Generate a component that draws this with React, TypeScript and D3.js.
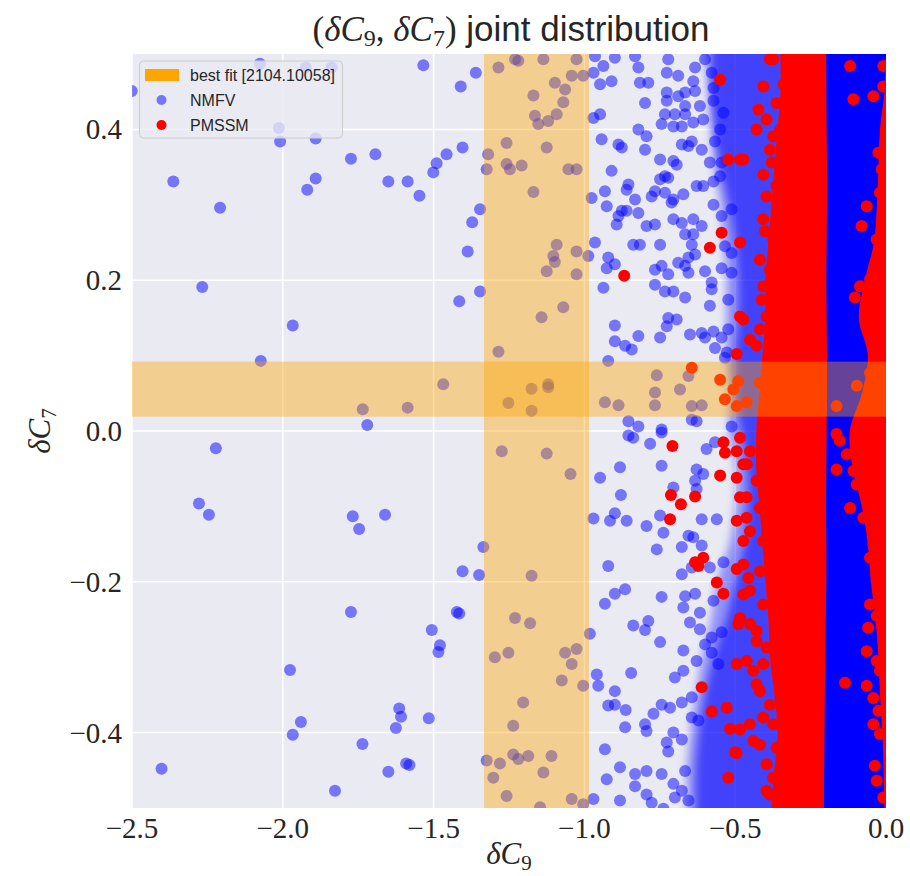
import React from "react";
import * as d3 from "d3";

// ---------- data ----------
const xTicks = [-2.5, -2.0, -1.5, -1.0, -0.5, 0.0];
const yTicks = [-0.4, -0.2, 0.0, 0.2, 0.4];
const bestFitC9 = [-1.333, -0.985];
const bestFitC7 = [0.019, 0.092];

// NMFV isolated points (far left region)
const nmfvFar: [number, number][] = [
  [-2.501, 0.451], [-2.076, 0.487], [-1.924, 0.482], [-1.838, 0.482], [-1.534, 0.485], [-1.41, 0.457], [-1.36, 0.475],
  [-2.013, 0.402], [-2.009, 0.384], [-1.891, 0.388], [-2.363, 0.331], [-2.208, 0.296], [-1.919, 0.32], [-1.891, 0.335],
  [-1.774, 0.361], [-1.693, 0.367], [-1.65, 0.331], [-1.586, 0.331], [-1.547, 0.312], [-1.501, 0.343], [-1.49, 0.355],
  [-1.457, 0.367], [-1.404, 0.376], [-1.346, 0.294], [-1.372, 0.277], [-1.387, 0.238], [-2.267, 0.191], [-1.967, 0.14],
  [-1.415, 0.172], [-1.346, 0.185], [-2.073, 0.093], [-1.468, 0.062], [-1.735, 0.029], [-1.586, 0.031], [-1.72, 0.008],
  [-2.222, -0.023], [-2.278, -0.096], [-2.245, -0.111], [-1.768, -0.113], [-1.661, -0.111], [-1.747, -0.13], [-1.335, -0.154],
  [-1.404, -0.186], [-1.349, -0.191], [-1.774, -0.24], [-1.423, -0.24], [-1.415, -0.242], [-1.506, -0.264], [-1.479, -0.284],
  [-1.484, -0.293], [-1.976, -0.317], [-1.94, -0.386], [-1.967, -0.403], [-1.614, -0.368], [-1.608, -0.379], [-1.625, -0.394],
  [-1.516, -0.381], [-1.736, -0.415], [-1.591, -0.441], [-1.58, -0.443], [-1.65, -0.452], [-2.402, -0.448], [-1.827, -0.477],
];

// NMFV points inside the vertical best-fit band
const nmfvBand: [number, number][] = [
  [-1.285, 0.482], [-1.23, 0.493], [-1.219, 0.491], [-1.136, 0.493], [-1.026, 0.493], [-1.098, 0.462], [-1.064, 0.453],
  [-1.042, 0.471], [-1.004, 0.471], [-1.169, 0.445], [-1.07, 0.436], [-1.164, 0.418], [-1.153, 0.407], [-1.12, 0.411],
  [-1.092, 0.42], [-1.258, 0.382], [-1.125, 0.376], [-1.319, 0.367], [-1.324, 0.347], [-1.258, 0.354], [-1.247, 0.347],
  [-1.208, 0.352], [-1.053, 0.347], [-1.026, 0.347], [-1.169, 0.317], [-1.092, 0.247], [-1.103, 0.232], [-1.098, 0.224],
  [-1.125, 0.212], [-1.026, 0.238], [-0.987, 0.232], [-1.026, 0.208], [-1.07, 0.164], [-1.142, 0.151], [-1.285, 0.105],
  [-1.175, 0.056], [-1.12, 0.062], [-1.12, 0.058], [-1.252, 0.037], [-1.175, 0.027],
  [-1.274, -0.027], [-1.125, -0.03], [-1.046, -0.057], [-1.175, -0.192], [-1.23, -0.248], [-1.18, -0.255], [-1.297, -0.3],
  [-1.252, -0.294], [-1.064, -0.294], [-1.026, -0.289], [-1.042, -0.309], [-1.075, -0.331], [-1.004, -0.338], [-1.203, -0.36],
  [-1.236, -0.391], [-1.324, -0.437], [-1.28, -0.441], [-1.236, -0.429], [-1.219, -0.435], [-1.186, -0.431], [-1.109, -0.431],
  [-1.302, -0.46], [-1.136, -0.453], [-1.258, -0.484], [-1.042, -0.488], [-1.004, -0.495], [-1.147, -0.499],
];

// NMFV points, middle region, upper half
const nmfvMidUpper: [number, number][] = [
  [-0.965, 0.497], [-0.899, 0.495], [-0.97, 0.475], [-0.937, 0.484], [-0.91, 0.464], [-0.948, 0.46], [-0.832, 0.497],
  [-0.821, 0.482], [-0.816, 0.462], [-0.788, 0.462], [-0.727, 0.475], [-0.689, 0.471], [-0.722, 0.493], [-0.633, 0.482],
  [-0.639, 0.464], [-0.6, 0.493], [-0.578, 0.475], [-0.727, 0.449], [-0.727, 0.438], [-0.689, 0.444], [-0.666, 0.449],
  [-0.666, 0.431], [-0.799, 0.435], [-0.633, 0.451], [-0.617, 0.431], [-0.572, 0.438], [-0.572, 0.455], [-0.948, 0.42],
  [-0.97, 0.415], [-0.733, 0.42], [-0.7, 0.42], [-0.666, 0.42], [-0.639, 0.409], [-0.606, 0.413], [-0.539, 0.422],
  [-0.943, 0.387], [-0.887, 0.38], [-0.876, 0.376], [-0.821, 0.4], [-0.794, 0.391], [-0.799, 0.373], [-0.744, 0.407],
  [-0.705, 0.404], [-0.677, 0.404], [-0.677, 0.38], [-0.655, 0.378], [-0.644, 0.384], [-0.611, 0.373], [-0.567, 0.384],
  [-0.55, 0.4], [-0.749, 0.36], [-0.705, 0.358], [-0.694, 0.353], [-0.91, 0.345], [-0.733, 0.338], [-0.749, 0.334],
  [-0.722, 0.336], [-0.932, 0.318], [-0.854, 0.327], [-0.86, 0.32], [-0.832, 0.307], [-0.777, 0.311], [-0.766, 0.318],
  [-0.733, 0.316], [-0.705, 0.307], [-0.672, 0.314], [-0.628, 0.325], [-0.606, 0.325], [-0.572, 0.331], [-0.55, 0.338],
  [-0.584, 0.356], [-0.545, 0.356], [-0.976, 0.309], [-0.926, 0.298], [-0.887, 0.285], [-0.876, 0.292], [-0.86, 0.292],
  [-0.821, 0.289], [-0.893, 0.274], [-0.794, 0.272], [-0.766, 0.274], [-0.711, 0.303], [-0.705, 0.281], [-0.677, 0.276],
  [-0.639, 0.281], [-0.611, 0.272], [-0.572, 0.3], [-0.545, 0.285], [-0.512, 0.294], [-0.965, 0.25], [-0.838, 0.247],
  [-0.816, 0.247], [-0.749, 0.247], [-0.666, 0.261], [-0.639, 0.261], [-0.644, 0.247], [-0.534, 0.245], [-0.512, 0.236],
  [-0.633, 0.234], [-0.655, 0.23], [-0.921, 0.23], [-0.926, 0.216], [-0.899, 0.221], [-0.766, 0.214], [-0.744, 0.219],
  [-0.689, 0.223], [-0.666, 0.219], [-0.655, 0.21], [-0.722, 0.208], [-0.6, 0.212], [-0.578, 0.197], [-0.545, 0.216],
  [-0.512, 0.21], [-0.937, 0.19], [-0.766, 0.194], [-0.733, 0.185], [-0.705, 0.185], [-0.666, 0.177], [-0.578, 0.188],
  [-0.523, 0.174], [-0.584, 0.166], [-0.722, 0.15], [-0.694, 0.148], [-0.727, 0.139], [-0.899, 0.14], [-0.899, 0.119],
  [-0.865, 0.113], [-0.821, 0.126], [-0.843, 0.108], [-0.749, 0.124], [-0.65, 0.128], [-0.611, 0.13], [-0.6, 0.124],
  [-0.572, 0.132], [-0.545, 0.124], [-0.523, 0.135], [-0.567, 0.11], [-0.528, 0.104], [-0.534, 0.097], [-0.921, 0.093],
  [-0.76, 0.074], [-0.655, 0.073], [-0.932, 0.038], [-0.887, 0.034], [-0.766, 0.051], [-0.766, 0.034], [-0.683, 0.055],
  [-0.644, 0.033], [-0.611, 0.034], [-0.854, 0.013], [-0.821, 0.006], [-0.744, 0.002], [-0.644, 0.015], [-0.628, 0.013],
  [-0.512, 0.006],
];

// NMFV points, middle region, lower half
const nmfvMidLower: [number, number][] = [
  [-0.854, -0.006], [-0.838, -0.009], [-0.744, -0.002], [-0.782, -0.017], [-0.595, -0.024], [-0.567, -0.015], [-0.948, -0.062],
  [-0.882, -0.048], [-0.744, -0.046], [-0.628, -0.051], [-0.606, -0.057], [-0.633, -0.066], [-0.879, -0.085], [-0.705, -0.075],
  [-0.628, -0.077], [-0.97, -0.116], [-0.915, -0.119], [-0.899, -0.109], [-0.86, -0.119], [-0.794, -0.126], [-0.749, -0.112],
  [-0.738, -0.135], [-0.611, -0.117], [-0.561, -0.117], [-0.76, -0.157], [-0.677, -0.154], [-0.655, -0.139], [-0.639, -0.141],
  [-0.611, -0.152], [-0.921, -0.179], [-0.677, -0.19], [-0.644, -0.181], [-0.584, -0.181], [-0.539, -0.174], [-0.899, -0.216],
  [-0.865, -0.21], [-0.932, -0.229], [-0.744, -0.22], [-0.666, -0.219], [-0.633, -0.216], [-0.672, -0.234], [-0.617, -0.241],
  [-0.572, -0.225], [-0.838, -0.258], [-0.799, -0.264], [-0.788, -0.252], [-0.65, -0.254], [-0.617, -0.263], [-0.578, -0.274],
  [-0.545, -0.267], [-0.749, -0.28], [-0.672, -0.291], [-0.628, -0.305], [-0.6, -0.283], [-0.578, -0.294], [-0.556, -0.309],
  [-0.982, -0.269], [-0.959, -0.323], [-0.954, -0.338], [-0.845, -0.321], [-0.899, -0.345], [-0.921, -0.364], [-0.899, -0.363],
  [-0.863, -0.37], [-0.7, -0.327], [-0.672, -0.318], [-0.677, -0.36], [-0.644, -0.353], [-0.771, -0.375], [-0.744, -0.363],
  [-0.716, -0.367], [-0.799, -0.389], [-0.794, -0.398], [-0.865, -0.393], [-0.705, -0.4], [-0.727, -0.413], [-0.677, -0.409],
  [-0.722, -0.425], [-0.932, -0.422], [-0.622, -0.384], [-0.644, -0.38], [-0.882, -0.446], [-0.832, -0.455], [-0.794, -0.451],
  [-0.744, -0.455], [-0.926, -0.462], [-0.832, -0.471], [-0.794, -0.482], [-0.97, -0.488], [-0.882, -0.49], [-0.777, -0.493],
  [-0.705, -0.468], [-0.666, -0.451], [-0.7, -0.486], [-0.655, -0.49], [-0.677, -0.477], [-0.738, -0.501],
];

// PMSSM isolated points
const pmssmScatter: [number, number][] = [
  [-0.55, 0.466], [-0.523, 0.36], [-0.484, 0.36], [-0.584, 0.243], [-0.545, 0.263], [-0.484, 0.25], [-0.868, 0.206],
  [-0.484, 0.152], [-0.495, 0.102], [-0.644, 0.084], [-0.55, 0.068], [-0.49, 0.066], [-0.534, 0.042], [-0.495, 0.033],
  [-0.506, 0.055], [-0.462, 0.038], [-0.418, 0.064],
  [-0.407, 0.457], [-0.34, 0.46], [-0.423, 0.426], [-0.429, 0.4], [-0.374, 0.391], [-0.473, 0.36], [-0.407, 0.34],
  [-0.379, 0.356], [-0.401, 0.265], [-0.473, 0.148], [-0.451, 0.121], [-0.396, 0.152], [-0.412, 0.174],
  [-0.385, 0.493], [-0.307, 0.488],
  [-0.708, -0.02], [-0.539, -0.015], [-0.534, -0.029], [-0.55, -0.059], [-0.713, -0.085], [-0.68, -0.097], [-0.633, -0.087],
  [-0.716, -0.117], [-0.633, -0.174], [-0.606, -0.168], [-0.622, -0.179], [-0.561, -0.201], [-0.539, -0.216],
  [-0.611, -0.34], [-0.578, -0.372], [-0.528, -0.367], [-0.517, -0.395], [-0.501, -0.426], [-0.523, -0.46],
  [-0.484, -0.009], [-0.451, -0.027], [-0.473, -0.044], [-0.495, -0.062], [-0.462, -0.088], [-0.495, -0.119], [-0.462, -0.115],
  [-0.473, -0.146], [-0.495, -0.183], [-0.456, -0.195], [-0.473, -0.217], [-0.49, -0.256], [-0.451, -0.256], [-0.429, -0.279],
  [-0.495, -0.309], [-0.44, -0.318], [-0.418, -0.345], [-0.407, -0.38], [-0.484, -0.396], [-0.44, -0.411], [-0.495, -0.427],
  [-0.374, -0.46], [-0.385, -0.482], [-0.396, -0.442],
];

// PMSSM blobs along the left edge of the PMSSM core
const pmssmEdgeFringe: [number, number][] = [
  [-0.374, 0.493], [-0.296, 0.484], [-0.329, 0.475], [-0.363, 0.435], [-0.396, 0.413], [-0.351, 0.4], [-0.34, 0.378],
  [-0.385, 0.373], [-0.363, 0.325], [-0.396, 0.311], [-0.351, 0.294], [-0.407, 0.281], [-0.374, 0.254], [-0.418, 0.227],
  [-0.385, 0.214], [-0.351, 0.192], [-0.407, 0.192], [-0.374, 0.166], [-0.418, 0.135], [-0.385, 0.117], [-0.429, 0.113],
  [-0.495, -0.027], [-0.462, -0.044], [-0.429, -0.066], [-0.484, -0.088], [-0.418, -0.102], [-0.451, -0.133], [-0.407, -0.146],
  [-0.473, -0.177], [-0.418, -0.186], [-0.451, -0.212], [-0.407, -0.23], [-0.484, -0.248], [-0.429, -0.265], [-0.396, -0.287],
  [-0.462, -0.305], [-0.407, -0.309], [-0.429, -0.336], [-0.385, -0.363], [-0.451, -0.389], [-0.374, -0.389], [-0.418, -0.416],
  [-0.363, -0.42], [-0.351, -0.451], [-0.396, -0.477], [-0.329, -0.486],
];

// PMSSM points inside the NMFV core (right edge)
const pmssmRight: [number, number][] = [
  [-0.119, 0.484], [-0.108, 0.44], [-0.042, 0.444], [-0.009, 0.457], [-0.009, 0.484], [-0.064, 0.298], [-0.081, 0.272],
  [-0.103, 0.177], [-0.086, 0.192], [-0.053, 0.201], [-0.031, 0.228], [-0.025, 0.369], [-0.014, 0.347], [-0.02, 0.316],
  [-0.031, 0.254], [-0.042, 0.166], [-0.031, 0.139], [-0.02, 0.113], [-0.164, 0.033], [-0.097, 0.06], [-0.053, 0.077],
  [-0.164, -0.004], [-0.13, -0.031], [-0.164, -0.051], [-0.108, -0.053], [-0.119, -0.102], [-0.075, -0.115], [-0.031, -0.088],
  [-0.042, -0.15], [-0.053, -0.168], [-0.053, -0.23], [-0.031, -0.245], [-0.059, -0.261], [-0.064, -0.292], [-0.031, -0.305],
  [-0.136, -0.334], [-0.064, -0.338], [-0.02, -0.318], [-0.042, -0.354], [-0.025, -0.371], [-0.042, -0.389], [-0.02, -0.402],
  [-0.037, -0.444], [-0.031, -0.464], [-0.009, -0.486], [-0.153, -0.013], [-0.097, -0.071], [-0.031, -0.199], [-0.014, -0.044],
];

// density envelopes of the saturated parts (per y level)
const profileY = [0.5, 0.45, 0.4, 0.35, 0.3, 0.25, 0.2, 0.15, 0.1, 0.05, 0.0, -0.05, -0.1, -0.15, -0.2, -0.25, -0.3, -0.35, -0.4, -0.45, -0.5];
const nmfvDenseLeft = [-0.6, -0.59, -0.58, -0.57, -0.55, -0.54, -0.53, -0.53, -0.53, -0.52, -0.52, -0.5, -0.5, -0.52, -0.56, -0.58, -0.61, -0.63, -0.65, -0.66, -0.66];
const nmfvInnerLeft = [-0.58, -0.58, -0.57, -0.55, -0.52, -0.5, -0.49, -0.49, -0.5, -0.5, -0.48, -0.46, -0.46, -0.47, -0.5, -0.53, -0.57, -0.6, -0.62, -0.63, -0.63];
const nmfvCoreLeft = [-0.2, -0.2, -0.199, -0.198, -0.198, -0.199, -0.2, -0.199, -0.198, -0.198, -0.199, -0.2, -0.201, -0.2, -0.2, -0.202, -0.204, -0.205, -0.206, -0.207, -0.208];
const pmssmCoreLeft = [-0.35, -0.35, -0.36, -0.37, -0.38, -0.39, -0.4, -0.4, -0.41, -0.42, -0.43, -0.43, -0.42, -0.41, -0.4, -0.39, -0.385, -0.37, -0.36, -0.37, -0.38];
const pmssmEdgeLeft = [0, -0.005, -0.02, -0.025, -0.03, -0.04, -0.07, -0.09, -0.06, -0.08, -0.12, -0.11, -0.08, -0.06, -0.05, -0.035, -0.025, -0.02, -0.012, -0.008, -0.005];

// ---------- layout ----------
const W = 910, H = 876;
const L = 132, R = 886, T = 54, B = 808;
const xS = d3.scaleLinear().domain([-2.5, 0]).range([L, R]);
const yS = d3.scaleLinear().domain([-0.5, 0.5]).range([B, T]);
const BLUE = "#0000ff";
const RED = "#ff0000";
const ORANGE = "#ffa500";
const SERIF = "'Liberation Serif', 'DejaVu Serif', serif";
const SANS = "'Liberation Sans', Arial, sans-serif";
const fmt = (v: number) => (v < 0 ? "\u2212" : "") + Math.abs(v).toFixed(1);

type Prof = { y: number; x0: number; x1: number };
const mkProf = (lefts: number[], rights: number[] | number): Prof[] =>
  profileY.map((y, i) => ({ y, x0: lefts[i], x1: Array.isArray(rights) ? rights[i] : rights }));

const area = d3
  .area<Prof>()
  .y((d) => yS(d.y))
  .x0((d) => xS(d.x0))
  .x1((d) => xS(d.x1))
  .curve(d3.curveCatmullRom);

export default function App() {
  const denseBlue = mkProf(nmfvDenseLeft, pmssmCoreLeft.map((v) => v + 0.03));
  const innerBlue = mkProf(nmfvInnerLeft, pmssmCoreLeft.map((v) => v + 0.03));
  const blueCore = mkProf(nmfvCoreLeft, 0.01);
  const redCore = mkProf(pmssmCoreLeft, nmfvCoreLeft.map((v) => v + 0.002));
  const redEdge = mkProf(pmssmEdgeLeft, 0.01);
  const nmfvAll = [...nmfvFar, ...nmfvBand, ...nmfvMidUpper, ...nmfvMidLower];
  const pmssmAll = [...pmssmScatter, ...pmssmEdgeFringe, ...pmssmRight];

  return (
    <svg width={W} height={H} style={{ position: "absolute", left: 0, top: 0, background: "#fff" }}>
      <defs>
        <clipPath id="plotclip">
          <rect x={L} y={T} width={R - L} height={B - T} />
        </clipPath>
        <filter id="soft" filterUnits="userSpaceOnUse" x={L - 20} y={T - 20} width={R - L + 40} height={B - T + 40}>
          <feGaussianBlur stdDeviation="4 0" />
        </filter>
      </defs>
      <rect x={L} y={T} width={R - L} height={B - T} fill="#EAEAF2" />
      {xTicks.map((t) => (
        <line key={"gx" + t} x1={xS(t)} x2={xS(t)} y1={T} y2={B} stroke="#fff" strokeWidth={1.5} />
      ))}
      {yTicks.map((t) => (
        <line key={"gy" + t} x1={L} x2={R} y1={yS(t)} y2={yS(t)} stroke="#fff" strokeWidth={1.5} />
      ))}
      <g clipPath="url(#plotclip)">
        {/* NMFV */}
        <g filter="url(#soft)">
          <path d={area(denseBlue) || ""} fill={BLUE} fillOpacity={0.38} />
          <path d={area(innerBlue) || ""} fill={BLUE} fillOpacity={0.55} />
        </g>
        <path d={area(blueCore) || ""} fill={BLUE} />
        {nmfvAll.map((p, i) => (
          <circle key={"n" + i} cx={xS(p[0])} cy={yS(p[1])} r={6} fill={BLUE} fillOpacity={0.5} />
        ))}
        {/* PMSSM */}
        <path d={area(redCore) || ""} fill={RED} />
        <path d={area(redEdge) || ""} fill={RED} />
        {pmssmAll.map((p, i) => (
          <circle key={"p" + i} cx={xS(p[0])} cy={yS(p[1])} r={6} fill={RED} />
        ))}
        {/* best fit bands */}
        <rect x={xS(bestFitC9[0])} y={T} width={xS(bestFitC9[1]) - xS(bestFitC9[0])} height={B - T} fill={ORANGE} fillOpacity={0.4} />
        <rect x={L} y={yS(bestFitC7[1])} width={R - L} height={yS(bestFitC7[0]) - yS(bestFitC7[1])} fill={ORANGE} fillOpacity={0.4} />
      </g>

      {/* ticks */}
      {xTicks.map((t) => (
        <text key={"tx" + t} x={xS(t)} y={838} textAnchor="middle" fontFamily={SERIF} fontSize={29} fill="#262626">
          {fmt(t)}
        </text>
      ))}
      {yTicks.map((t) => (
        <text key={"ty" + t} x={122} y={yS(t) + 10} textAnchor="end" fontFamily={SERIF} fontSize={29} fill="#262626">
          {fmt(t)}
        </text>
      ))}

      {/* axis labels */}
      <text x={(L + R) / 2} y={864} textAnchor="middle" fontFamily={SERIF} fontSize={31} fill="#262626">
        <tspan fontStyle="italic">δC</tspan>
        <tspan fontSize={21} dy={6}>9</tspan>
      </text>
      <text transform={`translate(50, ${(T + B) / 2}) rotate(-90)`} textAnchor="middle" fontFamily={SERIF} fontSize={31} fill="#262626">
        <tspan fontStyle="italic">δC</tspan>
        <tspan fontSize={21} dy={6}>7</tspan>
      </text>

      {/* title */}
      <text x={(L + R) / 2 + 2} y={41} textAnchor="middle" fill="#262626">
        <tspan fontFamily={SERIF} fontSize={35}>(</tspan>
        <tspan fontFamily={SERIF} fontSize={35} fontStyle="italic">δC</tspan>
        <tspan fontFamily={SERIF} fontSize={24} dy={5}>9</tspan>
        <tspan fontFamily={SERIF} fontSize={35} dy={-5}>, </tspan>
        <tspan fontFamily={SERIF} fontSize={35} fontStyle="italic">δC</tspan>
        <tspan fontFamily={SERIF} fontSize={24} dy={5}>7</tspan>
        <tspan fontFamily={SERIF} fontSize={35} dy={-5}>)</tspan>
        <tspan fontFamily={SANS} fontSize={35}> joint distribution</tspan>
      </text>

      {/* legend */}
      <g>
        <rect x={139.5} y={61} width={203} height={77} rx={4} fill="#EAEAF2" fillOpacity={0.8} stroke="#cccccc" strokeWidth={1} />
        <rect x={145} y={69} width={34} height={12} fill={ORANGE} />
        <text x={190} y={81} fontFamily={SANS} fontSize={16} fill="#262626">best fit [2104.10058]</text>
        <circle cx={161.5} cy={100} r={5} fill={BLUE} fillOpacity={0.5} />
        <text x={190} y={106} fontFamily={SANS} fontSize={16} fill="#262626">NMFV</text>
        <circle cx={161.5} cy={125} r={5} fill={RED} />
        <text x={190} y={131} fontFamily={SANS} fontSize={16} fill="#262626">PMSSM</text>
      </g>
    </svg>
  );
}
